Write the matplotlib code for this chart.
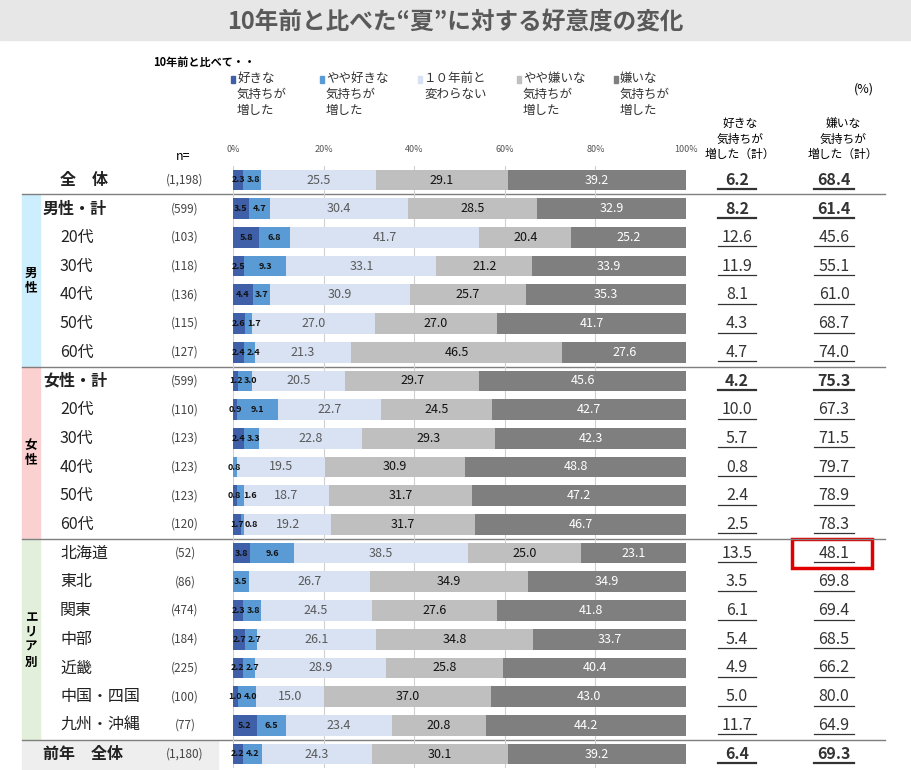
import numpy as np
import matplotlib.pyplot as plt
from matplotlib.patches import Rectangle

plt.rcParams['font.family'] = ['Noto Sans CJK JP', 'DejaVu Sans']

labels = ['全　体', '男性・計', '20代', '30代', '40代', '50代', '60代',
          '女性・計', '20代', '30代', '40代', '50代', '60代',
          '北海道', '東北', '関東', '中部', '近畿', '中国・四国', '九州・沖縄', '前年　全体']
n_labels = ['(1,198)', '(599)', '(103)', '(118)', '(136)', '(115)', '(127)',
            '(599)', '(110)', '(123)', '(123)', '(123)', '(120)',
            '(52)', '(86)', '(474)', '(184)', '(225)', '(100)', '(77)', '(1,180)']
like = [2.3, 3.5, 5.8, 2.5, 4.4, 2.6, 2.4, 1.2, 0.9, 2.4, 0.0, 0.8, 1.7,
        3.8, 0.0, 2.3, 2.7, 2.2, 1.0, 5.2, 2.2]
some_like = [3.8, 4.7, 6.8, 9.3, 3.7, 1.7, 2.4, 3.0, 9.1, 3.3, 0.8, 1.6, 0.8,
             9.6, 3.5, 3.8, 2.7, 2.7, 4.0, 6.5, 4.2]
same = [25.5, 30.4, 41.7, 33.1, 30.9, 27.0, 21.3, 20.5, 22.7, 22.8, 19.5, 18.7, 19.2,
        38.5, 26.7, 24.5, 26.1, 28.9, 15.0, 23.4, 24.3]
some_dislike = [29.1, 28.5, 20.4, 21.2, 25.7, 27.0, 46.5, 29.7, 24.5, 29.3, 30.9, 31.7, 31.7,
                25.0, 34.9, 27.6, 34.8, 25.8, 37.0, 20.8, 30.1]
dislike = [39.2, 32.9, 25.2, 33.9, 35.3, 41.7, 27.6, 45.6, 42.7, 42.3, 48.8, 47.2, 46.7,
           23.1, 34.9, 41.8, 33.7, 40.4, 43.0, 44.2, 39.2]
like_total = ['6.2', '8.2', '12.6', '11.9', '8.1', '4.3', '4.7', '4.2', '10.0', '5.7', '0.8',
              '2.4', '2.5', '13.5', '3.5', '6.1', '5.4', '4.9', '5.0', '11.7', '6.4']
dislike_total = ['68.4', '61.4', '45.6', '55.1', '61.0', '68.7', '74.0', '75.3', '67.3', '71.5',
                 '79.7', '78.9', '78.3', '48.1', '69.8', '69.4', '68.5', '66.2', '80.0', '64.9', '69.3']
legend_labels = ['好きな\n気持ちが\n増した', 'やや好きな\n気持ちが\n増した', '１０年前と\n変わらない',
                 'やや嫌いな\n気持ちが\n増した', '嫌いな\n気持ちが\n増した']

colors = ['#3f5fa8', '#5b9bd5', '#d9e2f3', '#bfbfbf', '#7f7f7f']
txt_colors = ['#111111', '#111111', '#595959', '#111111', 'white']
bold_rows = {0, 1, 7, 20}

W, H = 911, 770
fig = plt.figure(figsize=(W / 100, H / 100), dpi=100)

# overlay in pixel coords for decoration / text
ov = fig.add_axes([0, 0, 1, 1])
ov.set_xlim(0, W)
ov.set_ylim(H, 0)
ov.axis('off')

# bar axes
top, bot = 165.65, 768.35
ax = fig.add_axes([233 / W, 1 - bot / H, (686 - 233) / W, (bot - top) / H])
ax.set_xlim(0, 100)
ax.set_ylim(20.5, -0.5)
ax.axis('off')
for g in range(0, 101, 20):
    ax.axvline(g, color='#d0d0d0', lw=0.8, zorder=0)

series = [like, some_like, same, some_dislike, dislike]
y = np.arange(len(labels))
left = np.zeros(len(labels))
for k, s in enumerate(series):
    s = np.array(s)
    ax.barh(y, s, left=left, color=colors[k], height=0.72, zorder=2)
    left += s

for i in range(len(labels)):
    cum = 0
    prev_x = -10
    for k, s in enumerate(series):
        v = s[i]
        if v > 0:
            cx = cum + v / 2
            small = k < 2
            if small:
                cx = max(cx, prev_x + 3.3)
                prev_x = cx
            ax.text(cx, i, f'{v:.1f}', ha='center', va='center', zorder=3,
                    fontsize=6.5 if small else 9, color=txt_colors[k],
                    fontweight='bold' if small else 'normal')
        cum += v

# title
ov.add_patch(Rectangle((0, 0), W, 40, color='#e7e7e7', zorder=0))
ov.text(W / 2, 22, '10年前と比べた“夏”に対する好意度の変化', ha='center', va='center',
        fontsize=17, fontweight='bold', color='#595959')

# header
ov.text(153, 62, '10年前と比べて・・', fontsize=8, fontweight='bold', va='center')
for k, (lx, lab) in enumerate(zip([231, 320, 418, 517, 614], legend_labels)):
    ov.add_patch(Rectangle((lx, 76), 4, 7, color=colors[k]))
    ov.text(lx + 6, 72, lab, fontsize=9, va='top', linespacing=1.3, color='#333333')
for g in range(0, 101, 20):
    ov.text(233 + g * 4.53, 150, f'{g}%', fontsize=6.5, ha='center', va='center', color='#555555')
ov.text(183, 157, 'n=', fontsize=9, ha='center', va='center')
ov.text(864, 89, '(%)', fontsize=9, ha='center', va='center')
ov.text(740, 161, '好きな\n気持ちが\n増した（計）', fontsize=8.5, ha='center', va='bottom', linespacing=1.25)
ov.text(843, 161, '嫌いな\n気持ちが\n増した（計）', fontsize=8.5, ha='center', va='bottom', linespacing=1.25)

# left group bands
ov.add_patch(Rectangle((22, 195), 18, 172, color='#cdeefc', zorder=0))
ov.add_patch(Rectangle((22, 367), 18, 172, color='#fbd0d0', zorder=0))
ov.add_patch(Rectangle((22, 539), 18, 201, color='#e2efda', zorder=0))
ov.add_patch(Rectangle((22, 741), 196, 29, color='#eeeeee', zorder=0))
ov.text(31, 281, '男\n性', fontsize=9, ha='center', va='center', fontweight='bold', linespacing=1.2)
ov.text(31, 453, '女\n性', fontsize=9, ha='center', va='center', fontweight='bold', linespacing=1.2)
ov.text(31, 640, 'エ\nリ\nア\n別', fontsize=9, ha='center', va='center', fontweight='bold', linespacing=1.2)
for yl in [194, 367, 539, 740]:
    ov.plot([22, 885], [yl, yl], color='#7f7f7f', lw=1)

# row labels
ys = 180 + 28.7 * np.arange(len(labels))
for i, yy in enumerate(ys):
    x = 43 if (i in bold_rows and i != 0) else 60
    ov.text(x, yy, labels[i], fontsize=11.5, va='center', ha='left',
            fontweight='bold' if i in bold_rows else 'normal', color='#222222')
    ov.text(185, yy, n_labels[i], fontsize=8.5, va='center', ha='center', color='#444444')
    w = 1.6 if i in bold_rows else 0.9
    ov.text(737, yy, like_total[i], fontsize=11.5, va='center', ha='center', color='#333333',
            fontweight='bold' if i in bold_rows else 'normal')
    ov.plot([718, 756], [yy + 9, yy + 9], color='#333333', lw=w)
    ov.text(834, yy, dislike_total[i], fontsize=11.5, va='center', ha='center', color='#333333',
            fontweight='bold' if i in bold_rows else 'normal')
    ov.plot([814, 854], [yy + 9, yy + 9], color='#333333', lw=w)

# highlight box
hy = ys[13]
ov.add_patch(Rectangle((792, hy - 14), 80, 29, fill=False, ec='#e00000', lw=2.5))

fig.savefig('out.png', dpi=100)
